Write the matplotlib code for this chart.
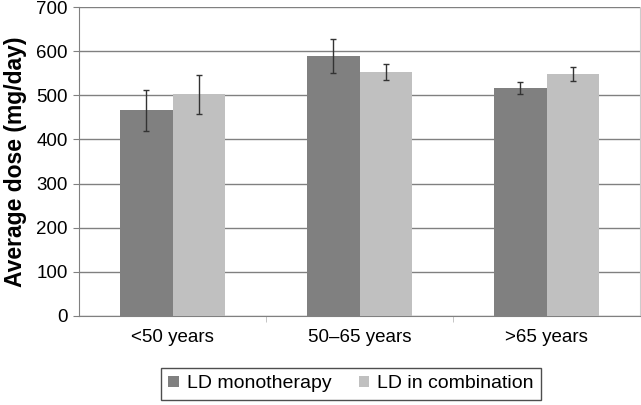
import numpy as np
import matplotlib.pyplot as plt

plt.rcParams['font.family'] = ['Liberation Sans', 'DejaVu Sans']

groups = ["<50 years", "50\u201365 years", ">65 years"]
mono = [466, 589, 516]
mono_err = [47, 39, 14]
combo = [502, 553, 548]
combo_err = [44, 18, 15]

fig = plt.figure(figsize=(6.41, 4.05), dpi=100)
ax = fig.add_axes([79 / 641, 1 - 316 / 405, (640 - 79) / 641, (316 - 7) / 405])

x = np.arange(len(groups))
w = 0.283
err_kw = dict(ecolor='#333333', elinewidth=1, capsize=2.5, capthick=1)
ax.bar(x - w / 2, mono, w, yerr=mono_err, color='#808080', label='LD monotherapy',
       error_kw=err_kw, zorder=3)
ax.bar(x + w / 2, combo, w, yerr=combo_err, color='#c0c0c0', label='LD in combination',
       error_kw=err_kw, zorder=3)

ax.set_xlim(-0.5, 2.5)
ax.set_ylim(0, 700)
ax.set_yticks(range(0, 701, 100))
ax.yaxis.grid(True, color='#808080', linewidth=1, zorder=0)
ax.set_xticks(x)
ax.set_xticklabels(groups, fontsize=13.5)
ax.set_xticks([0.5, 1.5], minor=True)
ax.tick_params(axis='x', which='major', length=0, pad=9)
ax.tick_params(axis='x', which='minor', length=4, color='#bbbbbb')
ax.tick_params(axis='y', labelsize=13.5, length=4, color='#808080', pad=4)
for s in ['left', 'bottom']:
    ax.spines[s].set_color('#808080')
ax.spines['top'].set_visible(False)
ax.spines['right'].set_color('#cccccc')

ax.set_ylabel('Average dose (mg/day)', fontsize=16.5, fontweight='bold', labelpad=7)

leg = fig.legend(loc='center', bbox_to_anchor=(351 / 641, 1 - 384 / 405), ncol=2,
                 fontsize=14, frameon=True, fancybox=False, handlelength=0.55,
                 handleheight=0.55, columnspacing=1.4, handletextpad=0.4,
                 borderpad=0.4)
leg.get_frame().set_edgecolor('#222222')
leg.get_frame().set_linewidth(1)

fig.savefig('out.png', dpi=100)
